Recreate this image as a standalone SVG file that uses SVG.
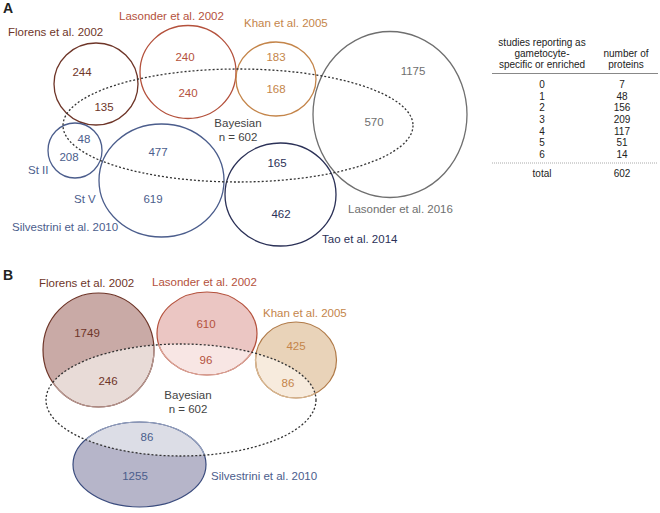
<svg xmlns="http://www.w3.org/2000/svg" width="660" height="513" viewBox="0 0 660 513">
<style>
text{font-family:"Liberation Sans",Arial,sans-serif;font-size:11.5px;text-anchor:middle}
.l{text-anchor:start}
.p{font-weight:bold;font-size:14px;fill:#222}
.t{font-size:10px;fill:#222}
.ring{fill:none;stroke-width:1.3}
.bay{fill:none;stroke:#333;stroke-width:1.3;stroke-dasharray:2 2}
.c1{fill:#6e3528;stroke:#6e3528}
.c2{fill:#b4513c;stroke:#b4513c}
.c3{fill:#c4854a;stroke:#c4854a}
.c4{fill:#6f6f6f;stroke:#6f6f6f}
.c5{fill:#2b3157;stroke:#2b3157}
.c6{fill:#4b5d8c;stroke:#4b5d8c}
.c7{fill:#444}
text.c1,text.c2,text.c3,text.c4,text.c5,text.c6{stroke:none}
</style>
<defs>
<clipPath id="bayB"><ellipse cx="181" cy="400" rx="135" ry="56"/></clipPath>
</defs>
<text class="p l" x="3" y="13">A</text>
<text class="p l" x="3" y="280">B</text>

<!-- Panel A -->
<g id="florensA">
<ellipse class="ring c1" style="fill:none" cx="96" cy="84" rx="42" ry="41"/>
<text class="c1 l" x="8" y="36">Florens et al. 2002</text>
<text class="c1" x="82" y="76">244</text>
<text class="c1" x="104" y="111">135</text>
</g>
<g id="lasonder2002A">
<ellipse class="ring c2" style="fill:none" cx="188" cy="72" rx="48" ry="46.5"/>
<text class="c2 l" x="119" y="20">Lasonder et al. 2002</text>
<text class="c2" x="185" y="61">240</text>
<text class="c2" x="188" y="97">240</text>
</g>
<g id="khanA">
<ellipse class="ring c3" style="fill:none" cx="276" cy="79" rx="40" ry="37"/>
<text class="c3 l" x="244" y="27">Khan et al. 2005</text>
<text class="c3" x="276" y="61">183</text>
<text class="c3" x="276" y="93">168</text>
</g>
<g id="lasonder2016A">
<ellipse class="ring c4" style="fill:none" cx="390" cy="114.5" rx="77" ry="83"/>
<text class="c4 l" x="348" y="213">Lasonder et al. 2016</text>
<text class="c4" x="413" y="75">1175</text>
<text class="c4" x="374" y="126">570</text>
</g>
<g id="taoA">
<ellipse class="ring c5" style="fill:none" cx="280.5" cy="194.5" rx="55.5" ry="51.5"/>
<text class="c5 l" x="322" y="243">Tao et al. 2014</text>
<text class="c5" x="277" y="167">165</text>
<text class="c5" x="281" y="218">462</text>
</g>
<g id="stIIA">
<ellipse class="ring c6" style="fill:none" cx="75" cy="150.5" rx="27" ry="27.5"/>
<text class="c6 l" x="28" y="174">St II</text>
<text class="c6" x="84" y="143">48</text>
<text class="c6" x="69" y="161">208</text>
</g>
<g id="stVA">
<ellipse class="ring c6" style="fill:none" cx="161.5" cy="180.5" rx="62.5" ry="56.5"/>
<text class="c6 l" x="74" y="203">St V</text>
<text class="c6 l" x="12" y="231">Silvestrini et al. 2010</text>
<text class="c6" x="158" y="156">477</text>
<text class="c6" x="153" y="203">619</text>
</g>
<g id="bayesianA">
<ellipse class="bay" cx="238" cy="125.5" rx="175" ry="56.5"/>
<text class="c7" x="238" y="127">Bayesian</text>
<text class="c7" x="238" y="141">n = 602</text>
</g>

<!-- Table -->
<g id="table">
<text class="t" x="542" y="46">studies reporting as</text>
<text class="t" x="542" y="57">gametocyte-</text>
<text class="t" x="542" y="68">specific or enriched</text>
<text class="t" x="626" y="57">number of</text>
<text class="t" x="626" y="68">proteins</text>
<line x1="492" y1="73.5" x2="658" y2="73.5" stroke="#888" stroke-width="1"/>
<g class="t">
<text class="t" x="542" y="88">0</text><text class="t" x="622" y="88">7</text>
<text class="t" x="542" y="99.7">1</text><text class="t" x="622" y="99.7">48</text>
<text class="t" x="542" y="111.3">2</text><text class="t" x="622" y="111.3">156</text>
<text class="t" x="542" y="123">3</text><text class="t" x="622" y="123">209</text>
<text class="t" x="542" y="134.7">4</text><text class="t" x="622" y="134.7">117</text>
<text class="t" x="542" y="146.3">5</text><text class="t" x="622" y="146.3">51</text>
<text class="t" x="542" y="158">6</text><text class="t" x="622" y="158">14</text>
</g>
<line x1="492" y1="163" x2="658" y2="163" stroke="#aaa" stroke-width="1" stroke-dasharray="1 1"/>
<text class="t" x="542" y="177">total</text><text class="t" x="622" y="177">602</text>
</g>

<!-- Panel B -->
<g id="florensB">
<ellipse cx="98.5" cy="350" rx="55.5" ry="57" fill="#c9aaa6"/>
<ellipse cx="98.5" cy="350" rx="55.5" ry="57" fill="#e8dbd7" clip-path="url(#bayB)"/>
<ellipse cx="98.5" cy="350" rx="55.5" ry="57" fill="none" stroke="#6e3528" stroke-width="1.2"/>
<ellipse cx="98.5" cy="350" rx="55.5" ry="57" fill="none" stroke="#b89a94" stroke-width="1.2" clip-path="url(#bayB)"/>
<text class="c1 l" x="39" y="287">Florens et al. 2002</text>
<text class="c1" x="87" y="337">1749</text>
<text class="c1" x="108" y="385">246</text>
</g>
<g id="lasonder2002B">
<ellipse cx="207" cy="333.5" rx="50" ry="41.5" fill="#ebc6c3"/>
<ellipse cx="207" cy="333.5" rx="50" ry="41.5" fill="#f8e6e4" clip-path="url(#bayB)"/>
<ellipse cx="207" cy="333.5" rx="50" ry="41.5" fill="none" stroke="#b4513c" stroke-width="1.2"/>
<ellipse cx="207" cy="333.5" rx="50" ry="41.5" fill="none" stroke="#dba69b" stroke-width="1.2" clip-path="url(#bayB)"/>
<text class="c2 l" x="152" y="286">Lasonder et al. 2002</text>
<text class="c2" x="206" y="328">610</text>
<text class="c2" x="206" y="364">96</text>
</g>
<g id="khanB">
<ellipse cx="296" cy="360" rx="40.5" ry="38" fill="#e9d3b9"/>
<ellipse cx="296" cy="360" rx="40.5" ry="38" fill="#f7ebdd" clip-path="url(#bayB)"/>
<ellipse cx="296" cy="360" rx="40.5" ry="38" fill="none" stroke="#b07a48" stroke-width="1.2"/>
<ellipse cx="296" cy="360" rx="40.5" ry="38" fill="none" stroke="#d9b994" stroke-width="1.2" clip-path="url(#bayB)"/>
<text class="c3 l" x="263" y="317">Khan et al. 2005</text>
<text class="c3" x="296" y="350">425</text>
<text class="c3" x="288" y="387">86</text>
</g>
<g id="silvestriniB">
<ellipse cx="139.5" cy="464.5" rx="66.5" ry="42.5" fill="#b6b5c9"/>
<ellipse cx="139.5" cy="464.5" rx="66.5" ry="42.5" fill="#dcdde6" clip-path="url(#bayB)"/>
<ellipse cx="139.5" cy="464.5" rx="66.5" ry="42.5" fill="none" stroke="#3b4c7e" stroke-width="1.2"/>
<ellipse cx="139.5" cy="464.5" rx="66.5" ry="42.5" fill="none" stroke="#97a3c0" stroke-width="1.2" clip-path="url(#bayB)"/>
<text class="c6 l" x="211" y="480">Silvestrini et al. 2010</text>
<text class="c6" x="147" y="441">86</text>
<text class="c6" x="135" y="480">1255</text>
</g>
<g id="bayesianB">
<ellipse class="bay" cx="181" cy="400" rx="135" ry="56"/>
<text class="c7" x="188" y="399">Bayesian</text>
<text class="c7" x="188" y="413">n = 602</text>
</g>
<g id="connectors"/>
</svg>
